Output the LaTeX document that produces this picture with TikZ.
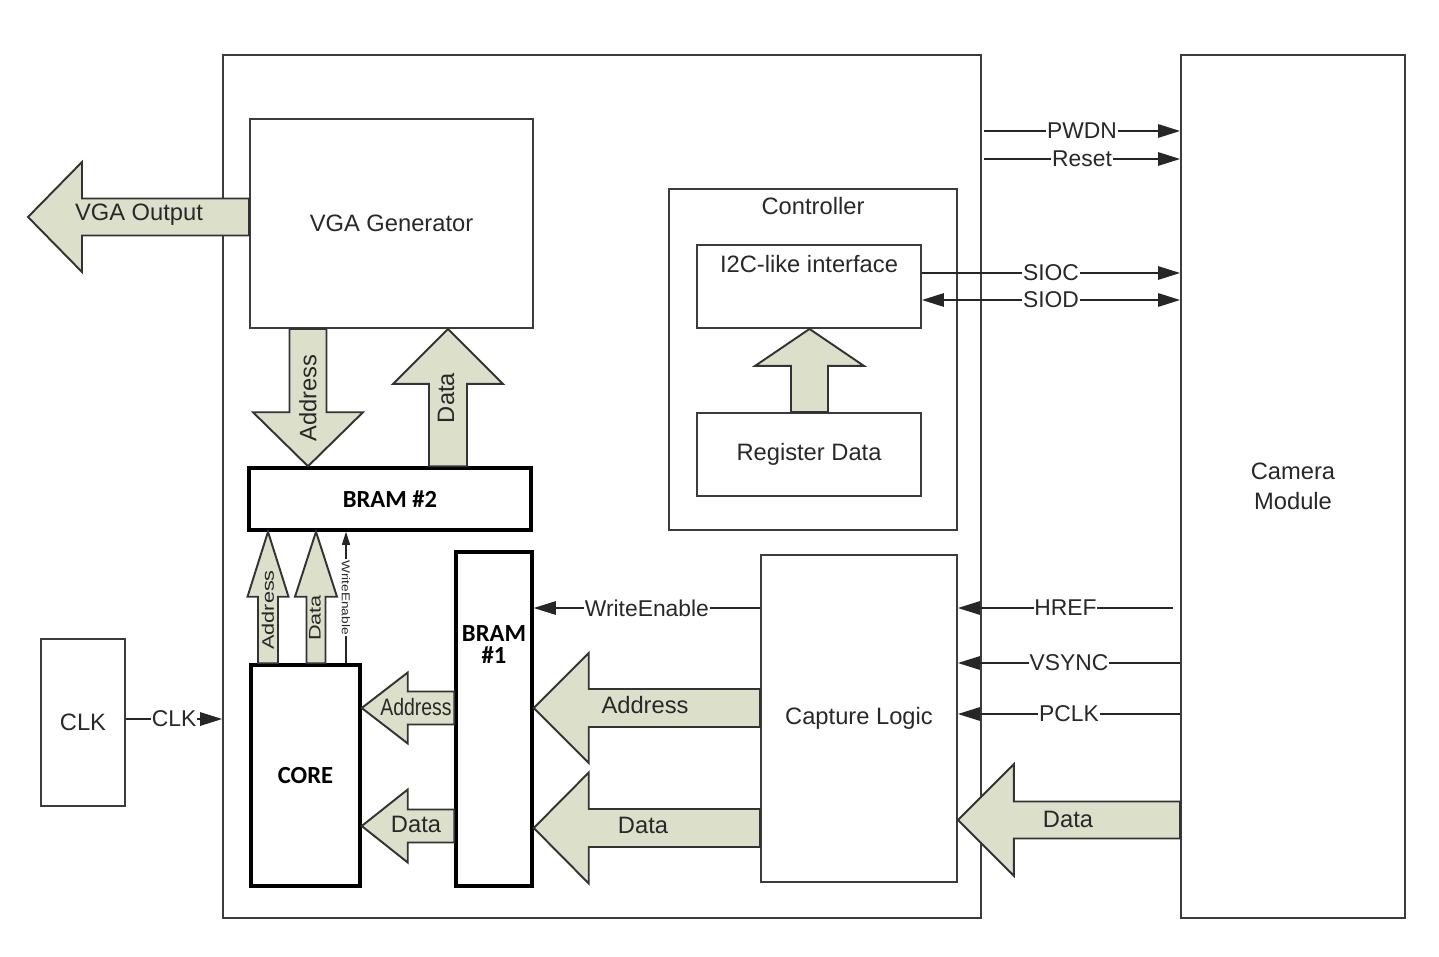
\documentclass[tikz,border=0pt]{standalone}
\usepackage{fontspec}
\setmainfont{Liberation Sans}
\newfontfamily\bramfont{Carlito}
\usepackage{graphicx}
\usetikzlibrary{arrows.meta,calc}
\definecolor{boxgray}{RGB}{60,60,60}
\definecolor{fatfill}{RGB}{220,224,203}
\definecolor{txtgray}{RGB}{40,40,40}

% fat arrows: tip, tail, shaft half width, head half width, head length (px)
\newcommand{\fatH}[5]{%
  \draw[fat] let \p1=#1, \p2=#2, \n1={sign((\x2)-(\x1))} in
    (\x1,\y1) -- ({\x1+(\n1)*#5*0.02cm},{\y1+#4*0.02cm})
    -- ({\x1+(\n1)*#5*0.02cm},{\y1+#3*0.02cm}) -- (\x2,{\y1+#3*0.02cm})
    -- (\x2,{\y1-#3*0.02cm}) -- ({\x1+(\n1)*#5*0.02cm},{\y1-#3*0.02cm})
    -- ({\x1+(\n1)*#5*0.02cm},{\y1-#4*0.02cm}) -- cycle;}
\newcommand{\fatV}[5]{%
  \draw[fat] let \p1=#1, \p2=#2, \n1={sign((\y2)-(\y1))} in
    (\x1,\y1) -- ({\x1+#4*0.02cm},{\y1+(\n1)*#5*0.02cm})
    -- ({\x1+#3*0.02cm},{\y1+(\n1)*#5*0.02cm}) -- ({\x1+#3*0.02cm},\y2)
    -- ({\x1-#3*0.02cm},\y2) -- ({\x1-#3*0.02cm},{\y1+(\n1)*#5*0.02cm})
    -- ({\x1-#4*0.02cm},{\y1+(\n1)*#5*0.02cm}) -- cycle;}

\tikzset{
  box/.style={draw=boxgray, line width=1.1pt, inner sep=0pt, text=txtgray,
    font=\fontsize{13.5}{17}\selectfont},
  bram/.style={draw=black, line width=2pt, inner sep=0pt,
    font=\bramfont\bfseries\fontsize{14}{12.5}\selectfont},
  sig/.style={draw=black!85, line width=0.8pt, -{Triangle[length=0.44cm,width=0.27cm]}},
  lbl/.style={fill=white, inner sep=0.5pt, text=txtgray, font=\fontsize{13}{15}\selectfont},
  fat/.style={draw=black!80, line width=1.1pt, fill=fatfill, line join=miter},
  fatlbl/.style={text=txtgray, inner sep=0pt, font=\fontsize{13.5}{16}\selectfont},
}

\begin{document}
\begin{tikzpicture}[x=0.02cm, y=-0.02cm]
  \useasboundingbox (0,0) rectangle (1439,956);

  % blocks
  \node[box, minimum width=15.16cm, minimum height=17.26cm] (fpga) at (602,486.5) {};
  \node[box, minimum width=4.48cm, minimum height=17.26cm, align=center] (camera)
    at (1293,486.5) {Camera\\Module};
  \node[box, minimum width=5.66cm, minimum height=4.18cm] (vga) at (391.5,223.5) {VGA Generator};
  \node[box, minimum width=5.76cm, minimum height=6.82cm,
    label={[anchor=center, yshift=-0.36cm, text=txtgray, font=\fontsize{13.5}{16}\selectfont]north:Controller}]
    (ctrl) at (813,359.5) {};
  \node[box, minimum width=4.48cm, minimum height=1.66cm,
    label={[anchor=center, yshift=-0.4cm, text=txtgray, font=\fontsize{13.5}{16}\selectfont]north:I2C-like interface}]
    (i2c) at (809,286.5) {};
  \node[box, minimum width=4.48cm, minimum height=1.66cm] (reg) at (809,454.5) {Register Data};
  \node[bram, minimum width=5.64cm, minimum height=1.24cm] (bram2) at (390,499) {BRAM \#2};
  \node[bram, minimum width=1.52cm, minimum height=6.68cm,
    label={[anchor=center, yshift=-1.88cm, align=center,
      font=\bramfont\bfseries\fontsize{14}{12.5}\selectfont]north:BRAM\\\#1}]
    (bram1) at (494,719) {};
  \node[bram, minimum width=2.18cm, minimum height=4.42cm] (core) at (305.5,775.5) {CORE};
  \node[box, minimum width=3.92cm, minimum height=6.54cm] (capture) at (859,718.5) {Capture Logic};
  \node[box, minimum width=1.68cm, minimum height=3.34cm] (clk) at (83,722.5) {CLK};

  % free ends
  \coordinate (vgatip) at (28,217);
  \coordinate (pwdnin) at (984,131);
  \coordinate (resetin) at (984,159);
  \coordinate (hrefout) at (1173,608);

  % buses
  \fatH{(vgatip)}{(vga.west |- 0,217)}{18.5}{55}{54}
  \fatV{(bram2.north -| 308,0)}{(vga.south -| 308,0)}{18.5}{55}{54}
  \fatV{(vga.south -| 448,0)}{(bram2.north -| 448,0)}{19}{55}{55}
  \fatV{(i2c.south -| 809.5,0)}{(reg.north -| 809.5,0)}{18.5}{54.5}{37}
  \fatV{(bram2.south -| 268,0)}{(core.north -| 268,0)}{10}{20.5}{65}
  \fatV{(bram2.south -| 316,0)}{(core.north -| 316,0)}{9.5}{21}{65}
  \fatH{(core.east |- 0,708)}{(bram1.west |- 0,708)}{16.5}{35.5}{46}
  \fatH{(core.east |- 0,826)}{(bram1.west |- 0,826)}{16.5}{36.5}{46}
  \fatH{(bram1.east |- 0,708)}{(capture.west |- 0,708)}{19}{55}{55}
  \fatH{(bram1.east |- 0,828)}{(capture.west |- 0,828)}{19}{55.5}{55}
  \fatH{(capture.east |- 0,820)}{(camera.west |- 0,820)}{18.5}{56}{56}

  \node[fatlbl] (vgaout) at (139,215) {VGA Output};
  \node[fatlbl, rotate=90] (vgaaddr) at (308,398) {Address};
  \node[fatlbl, rotate=90] (vgadata) at (446,398) {Data};
  \node[fatlbl, rotate=90, font=\fontsize{9.5}{11}\selectfont] (coreaddr) at (268,610)
    {\scalebox{1.3}[1]{Address}};
  \node[fatlbl, rotate=90, font=\fontsize{9.5}{11}\selectfont] (coredata) at (315,618)
    {\scalebox{1.3}[1]{Data}};
  \node[fatlbl] (b1addr) at (416,707) {\scalebox{0.82}[1]{Address}};
  \node[fatlbl] (b1data) at (416,824) {Data};
  \node[fatlbl] (capaddr) at (645,705) {Address};
  \node[fatlbl] (capdata) at (643,825) {Data};
  \node[fatlbl] (camdata) at (1068,819) {Data};

  % signals
  \draw[sig] (pwdnin) -- node[lbl]{PWDN} (camera.west |- pwdnin);
  \draw[sig] (resetin) -- node[lbl]{Reset} (camera.west |- resetin);
  \draw[sig] (i2c.east |- 0,273) -- node[lbl]{SIOC} (camera.west |- 0,273);
  \draw[sig, {Triangle[length=0.44cm,width=0.27cm]}-{Triangle[length=0.44cm,width=0.27cm]}]
    (i2c.east |- 0,300) -- node[lbl]{SIOD} (camera.west |- 0,300);
  \draw[sig] (hrefout) -- node[lbl]{HREF} (capture.east |- hrefout);
  \draw[sig] (camera.west |- 0,663) -- node[lbl]{VSYNC} (capture.east |- 0,663);
  \draw[sig] (camera.west |- 0,714) -- node[lbl]{PCLK} (capture.east |- 0,714);
  \draw[sig] (capture.west |- 0,608) -- node[lbl]{WriteEnable} (bram1.east |- 0,608);
  \draw[sig] (clk.east |- 0,719) -- node[lbl]{CLK} (fpga.west |- 0,719);
  \draw[sig, line width=0.6pt, -{Triangle[length=0.26cm,width=0.16cm]}]
    (core.north -| 346,0) -- node[lbl, rotate=-90, font=\fontsize{6.5}{8}\selectfont]
    {\scalebox{1.2}[1]{WriteEnable}} (bram2.south -| 346,0);
\end{tikzpicture}
\end{document}
